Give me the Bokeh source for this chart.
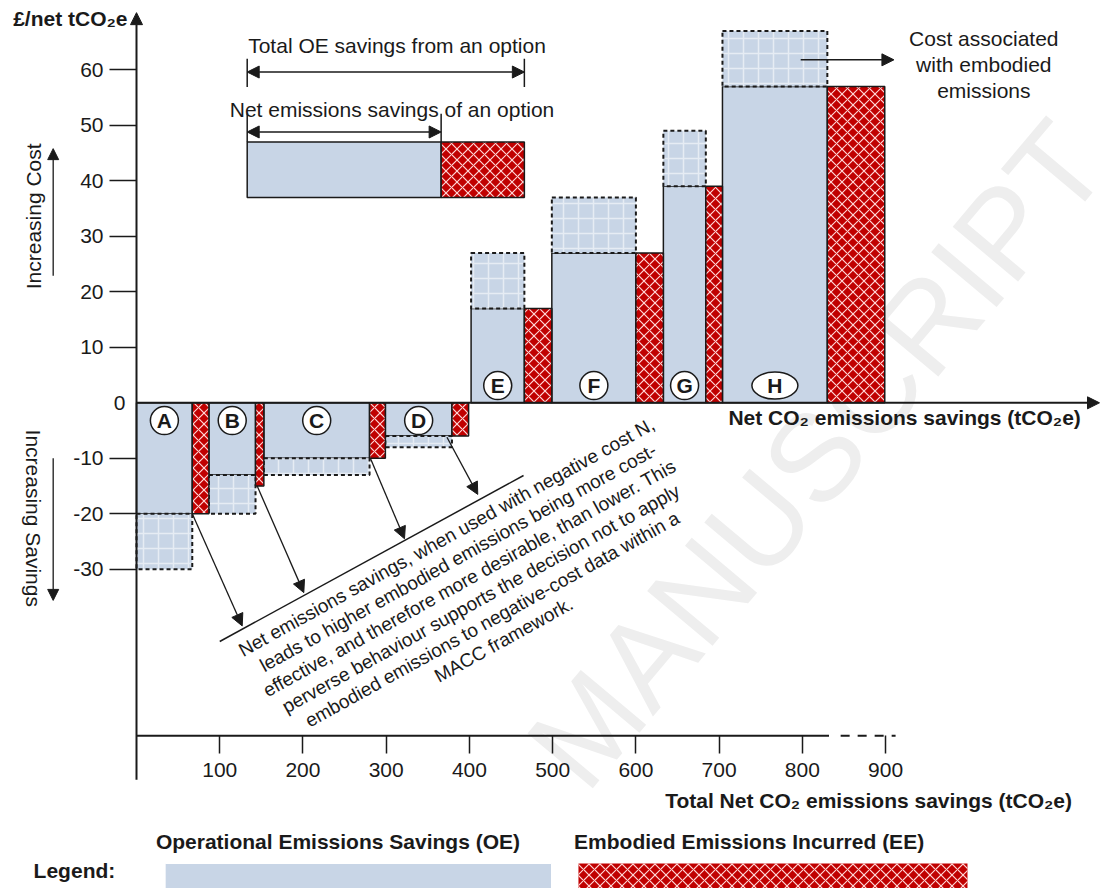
import numpy as np
from bokeh.plotting import figure
from bokeh.models import Range1d, LinearAxis, FixedTicker, Arrow, NormalHead
from bokeh.core.properties import value
from bokeh.embed import file_html
from bokeh.resources import INLINE

FONT = "Liberation Sans"
BLUE = "#C8D5E6"
RED = "#C00000"
INK = "#1a1a1a"

# ---- data -------------------------------------------------------------
options = ["A", "B", "C", "D", "E", "F", "G", "H"]
oe_start = [0, 87, 153, 299, 402, 499, 633, 704]      # start of OE bar (tCO2e)
oe_end = [67, 143, 280, 379, 466, 600, 684, 830]      # end of OE bar / start of EE bar
ee_end = [87, 153, 299, 399, 499, 633, 704, 899]      # end of EE bar
net_cost = [-20, -13, -10, -6, 17, 27, 39, 57]        # £/net tCO2e (solid OE bar)
ee_cost = [-20, -15, -10, -6, 17, 27, 39, 57]         # height of EE bar
oe_cost = [-30, -20, -13, -8, 27, 37, 49, 67]         # cost before embodied emissions (dotted)

y_ticks = [-30, -20, -10, 10, 20, 30, 40, 50, 60]
y_tick_labels = ["-30", "-20", "-10", "10", "20", "30", "40", "50", "60"]
x_ticks = [100, 200, 300, 400, 500, 600, 700, 800, 900]
x_tick_labels = ["100", "200", "300", "400", "500", "600", "700", "800", "900"]

# schematic example of an option (top)
ex_oe = [133, 366]
ex_ee = [366, 466]
ex_cost = [37, 47]

# arrows from negative-cost options to the note
note_from_x = [67, 145, 281, 373]
note_from_y = [-20, -15, -10, -6.2]
note_to_x = [127, 201, 322, 410]
note_to_y = [-40.2, -34.2, -24.5, -16.5]
note_line_x = [100, 465]
note_line_y = [-43.0, -13.1]
note_lines = [
    "Net emissions savings, when used with negative cost N,",
    "leads to higher embodied emissions being more cost-",
    "effective, and therefore more desirable, than lower. This",
    "perverse behaviour supports the decision not to apply",
    "embodied emissions to negative-cost data within a",
    "MACC framework.",
]

# ---- figure -----------------------------------------------------------
p = figure(width=1101, height=888, x_range=Range1d(-163.4, 1159.4),
           y_range=Range1d(-87.51, 72.49), output_backend="svg",
           toolbar_location=None, x_axis_type=None, y_axis_type=None,
           min_border=0, outline_line_color=None)
p.grid.visible = False
p.background_fill_color = "white"
p.border_fill_color = "white"

def txt(x, y, t, size="21px", style="normal", align="center", baseline="middle",
        angle=0.0, color=INK):
    p.text(x=x if isinstance(x, list) else [x], y=y if isinstance(y, list) else [y],
           text=t if isinstance(t, list) else [t],
           text_font=value(FONT), text_font_size=size, text_font_style=style,
           text_align=align, text_baseline=baseline, angle=angle, text_color=color)

# watermark
txt(1134, 47.3, "MANUSCRIPT", size="124px", align="right", baseline="alphabetic",
    angle=np.deg2rad(50), color="#eeeeee")

def head(size=12):
    return NormalHead(size=size, fill_color=INK, line_color=INK, line_width=1)

# axes lines
p.add_layout(Arrow(x_start=0, y_start=-67.9, x_end=0, y_end=70.3, end=head(12),
                   line_width=2, line_color=INK))
p.add_layout(Arrow(x_start=0, y_start=0, x_end=1157, y_end=0, end=head(12),
                   line_width=2, line_color=INK))
p.line([0, 832], [-60, -60], line_width=2, line_color=INK)
p.line([846, 912], [-60, -60], line_width=2, line_color=INK, line_dash="9 8")

yax = LinearAxis(fixed_location=0, ticker=FixedTicker(ticks=y_ticks),
                 major_label_overrides=dict(zip(y_ticks, y_tick_labels)),
                 major_tick_out=27, major_tick_in=0, minor_tick_out=0, minor_tick_in=0,
                 axis_line_color=None, major_tick_line_width=1.5, major_tick_line_color=INK,
                 major_label_text_font=FONT, major_label_text_font_size="21px",
                 major_label_text_color=INK, major_label_standoff=6)
p.add_layout(yax, "left")
xax = LinearAxis(fixed_location=-60, ticker=FixedTicker(ticks=x_ticks),
                 major_label_overrides=dict(zip(x_ticks, x_tick_labels)),
                 major_tick_out=18, major_tick_in=0, minor_tick_out=0, minor_tick_in=0,
                 axis_line_color=None, major_tick_line_width=1.5, major_tick_line_color=INK,
                 major_label_text_font=FONT, major_label_text_font_size="21px",
                 major_label_text_color=INK, major_label_standoff=9)
p.add_layout(xax, "below")
txt(-20.4, 0, "0")

# ---- bars -------------------------------------------------------------
net = np.array(net_cost, float)
eec = np.array(ee_cost, float)
oec = np.array(oe_cost, float)
p.quad(left=oe_start, right=oe_end, bottom=np.minimum(net, 0), top=np.maximum(net, 0),
       fill_color=BLUE, line_color=INK, line_width=1.5)
p.quad(left=oe_start, right=oe_end, bottom=np.minimum(net, oec), top=np.maximum(net, oec),
       fill_color=BLUE, hatch_pattern="+", hatch_color="white", hatch_alpha=0.55,
       hatch_scale=15, hatch_weight=1.5, line_color=INK, line_width=2, line_dash="4 3")
p.quad(left=oe_end, right=ee_end, bottom=np.minimum(eec, 0), top=np.maximum(eec, 0),
       fill_color=RED, hatch_pattern="x", hatch_color="#ffd6d6", hatch_scale=11,
       hatch_weight=1.2, line_color=INK, line_width=1.5)

# option labels
cx = [(a + b) / 2 for a, b in zip(oe_start, oe_end)]
cy = [-3.2 if v < 0 else 3.1 for v in net_cost]
p.scatter(cx[:-1], cy[:-1], size=28, marker="circle", fill_color="white",
          line_color=INK, line_width=1.5)
p.ellipse(x=cx[-1:], y=cy[-1:], width=46, height=27, width_units="screen",
          height_units="screen", fill_color="white", line_color=INK, line_width=1.5)
txt(cx, cy, options, size="21px", style="bold")

# ---- explanatory example at top --------------------------------------
p.quad(left=[ex_oe[0]], right=[ex_oe[1]], bottom=[ex_cost[0]], top=[ex_cost[1]],
       fill_color=BLUE, line_color=INK, line_width=1.5)
p.quad(left=[ex_ee[0]], right=[ex_ee[1]], bottom=[ex_cost[0]], top=[ex_cost[1]],
       fill_color=RED, hatch_pattern="x", hatch_color="#ffd6d6", hatch_scale=11,
       hatch_weight=1.2, line_color=INK, line_width=1.5)
p.add_layout(Arrow(x_start=ex_oe[0], y_start=59.6, x_end=ex_ee[1], y_end=59.6,
                   start=head(12), end=head(12), line_width=1.5, line_color=INK))
p.segment(x0=[ex_oe[0], ex_ee[1]], y0=[56.9, 56.9], x1=[ex_oe[0], ex_ee[1]], y1=[62, 62],
          line_width=1.5, line_color=INK)
txt(313, 64.4, "Total OE savings from an option")
p.add_layout(Arrow(x_start=ex_oe[0], y_start=48.8, x_end=ex_oe[1], y_end=48.8,
                   start=head(12), end=head(12), line_width=1.5, line_color=INK))
p.segment(x0=[ex_oe[0], ex_oe[1]], y0=[ex_cost[1]] * 2, x1=[ex_oe[0], ex_oe[1]],
          y1=[52.1, 52.1], line_width=1.5, line_color=INK)
txt(307, 52.8, "Net emissions savings of an option")

# cost associated with embodied emissions
p.add_layout(Arrow(x_start=798, y_start=61.8, x_end=910, y_end=61.8, end=head(12),
                   line_width=1.5, line_color=INK))
txt([1018, 1018, 1018], [65.7, 60.9, 56.2],
    ["Cost associated", "with embodied", "emissions"])

# ---- note on negative-cost options -----------------------------------
p.line(note_line_x, note_line_y, line_width=1.5, line_color=INK)
for x0, y0, x1, y1 in zip(note_from_x, note_from_y, note_to_x, note_to_y):
    p.add_layout(Arrow(x_start=x0, y_start=y0, x_end=x1, y_end=y1, end=head(12),
                       line_width=1.3, line_color=INK))
k = np.arange(len(note_lines))
txt(list(372.6 + 13.7 * k), list(-24.2 - 3.70 * k), note_lines, size="19px",
    angle=np.deg2rad(29))

# ---- axis titles -------------------------------------------------------
txt(-10.8, 69.2, "£/net tCO₂e", style="bold", align="right")
txt(1134.6, -2.6, "Net CO₂ emissions savings (tCO₂e)", style="bold", align="right")
txt(1131, -71.7, "Total  Net CO₂ emissions savings (tCO₂e)", style="bold", align="right")
txt(-123.8, 33.6, "Increasing Cost", angle=np.pi / 2)
txt(-123.8, -20.8, "Increasing Savings", angle=-np.pi / 2)
p.add_layout(Arrow(x_start=-100.1, y_start=22.9, x_end=-100.1, y_end=45.8, end=head(11),
                   line_width=1.3, line_color=INK))
p.add_layout(Arrow(x_start=-100.1, y_start=-10, x_end=-100.1, y_end=-35.6, end=head(11),
                   line_width=1.3, line_color=INK))

# ---- legend ------------------------------------------------------------
txt(-25.5, -84.3, "Legend:", style="bold", align="right")
txt(242, -79.0, "Operational Emissions Savings (OE)", style="bold")
txt(736, -79.0, "Embodied Emissions Incurred (EE)", style="bold")
p.quad(left=[34.4], right=[498.6], bottom=[-92], top=[-83], fill_color=BLUE,
       line_color="white", line_width=1)
p.quad(left=[531], right=[998.4], bottom=[-92], top=[-83],
       fill_color=RED, hatch_pattern="x", hatch_color="#ffd6d6", hatch_scale=11,
       hatch_weight=1.2, line_color=None)

open("out.html", "w").write(file_html(p, INLINE))
